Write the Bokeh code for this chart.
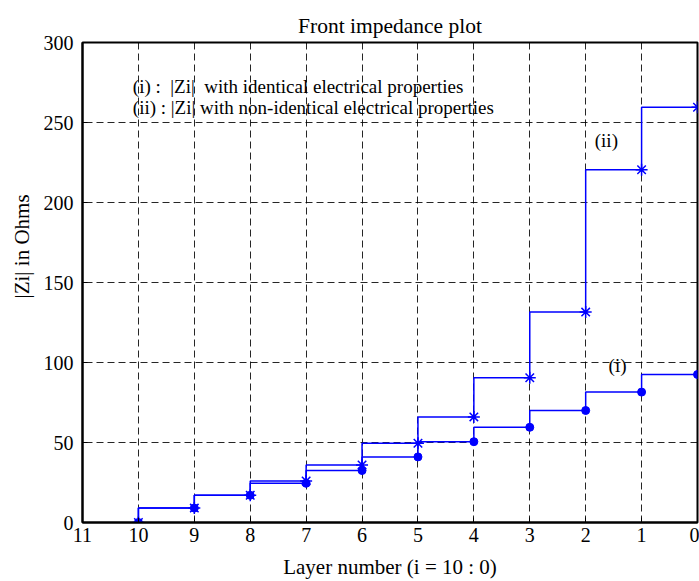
from bokeh.plotting import figure
from bokeh.models import Range1d, FixedTicker, Label, ColumnDataSource, Title
from bokeh.embed import file_html
from bokeh.resources import INLINE

layers = [10, 9, 8, 7, 6, 5, 4, 3, 2, 1, 0]
z_identical = [0, 9, 17, 24.5, 32.5, 41, 50.5, 59.5, 70, 81.5, 92.5]
z_nonidentical = [0, 9, 17, 26, 36, 49.5, 66, 90.5, 131.5, 220.5, 259.5]
x_ticks = list(range(0, 12))
y_ticks = [0, 50, 100, 150, 200, 250, 300]

FONT = "Liberation Serif"
BLUE = "#0000ff"
NB = "\u00a0"

p = figure(width=699, height=581, output_backend="svg", toolbar_location=None,
           x_range=Range1d(11, 0), y_range=Range1d(0, 300),
           title="Front impedance plot",
           min_border_left=82, min_border_right=2, min_border_top=42, min_border_bottom=54)

p.title.align = "center"
p.title.text_font = FONT
p.title.text_font_size = "21.5px"
p.title.text_font_style = "normal"
p.title.text_color = "black"

src1 = ColumnDataSource(dict(x=layers, y=z_identical))
src2 = ColumnDataSource(dict(x=layers, y=z_nonidentical))

p.step("x", "y", source=src1, mode="before", line_color=BLUE, line_width=1.5)
p.step("x", "y", source=src2, mode="before", line_color=BLUE, line_width=1.5)
p.scatter("x", "y", source=src1, marker="circle", size=8, fill_color=BLUE, line_color=BLUE)
p.scatter("x", "y", source=src2, marker="asterisk", size=12, line_color=BLUE, line_width=1.5)

for ax in (p.xaxis, p.yaxis):
    ax.major_label_text_font = FONT
    ax.major_label_text_font_size = "20px"
    ax.major_label_text_color = "black"
    ax.axis_label_text_font = FONT
    ax.axis_label_text_font_size = "21px"
    ax.axis_label_text_font_style = "normal"
    ax.axis_label_text_color = "black"
    ax.major_tick_in = 5
    ax.major_tick_out = 0
    ax.minor_tick_in = 0
    ax.minor_tick_out = 0
    ax.axis_line_width = 2
    ax.axis_line_color = "black"
    ax.major_tick_line_color = "black"

p.xaxis.major_label_standoff = 5
p.yaxis.major_label_standoff = 9
p.xaxis.ticker = FixedTicker(ticks=x_ticks)
p.yaxis.ticker = FixedTicker(ticks=y_ticks)
p.xaxis.axis_label = "Layer number (i = 10 : 0)"
p.xaxis.axis_label_standoff = 10

# y-axis title as a side title, placed above the frame centre as in the original
ytitle = Title(text="|Zi| in Ohms", align="left", offset=224, standoff=14,
               text_font=FONT, text_font_size="21px", text_font_style="normal",
               text_color="black")
p.add_layout(ytitle, "left")

p.xgrid.ticker = FixedTicker(ticks=x_ticks)
p.ygrid.ticker = FixedTicker(ticks=y_ticks)
for g in (p.xgrid, p.ygrid):
    g.grid_line_color = "black"
    g.grid_line_alpha = 0.85
    g.grid_line_dash = "7 4"
    g.grid_line_width = 1

p.outline_line_color = "black"
p.outline_line_width = 2
p.outline_line_alpha = 1

notes = [
    ("(i) :" + NB + NB + "|Zi|" + NB + NB + "with identical electrical properties", 10.1, 272.5),
    ("(ii) : |Zi| with non-identical electrical properties", 10.1, 259.5),
    ("(ii)", 1.63, 239),
    ("(i)", 1.43, 98),
]
for txt, xx, yy in notes:
    p.add_layout(Label(x=xx, y=yy, text=txt, text_font=FONT, text_font_size="19px",
                       text_baseline="middle", text_align="left" if len(txt) > 5 else "center",
                       text_color="black"))

p.background_fill_color = "white"
p.border_fill_color = "white"

open("out.html", "w").write(file_html(p, INLINE))
